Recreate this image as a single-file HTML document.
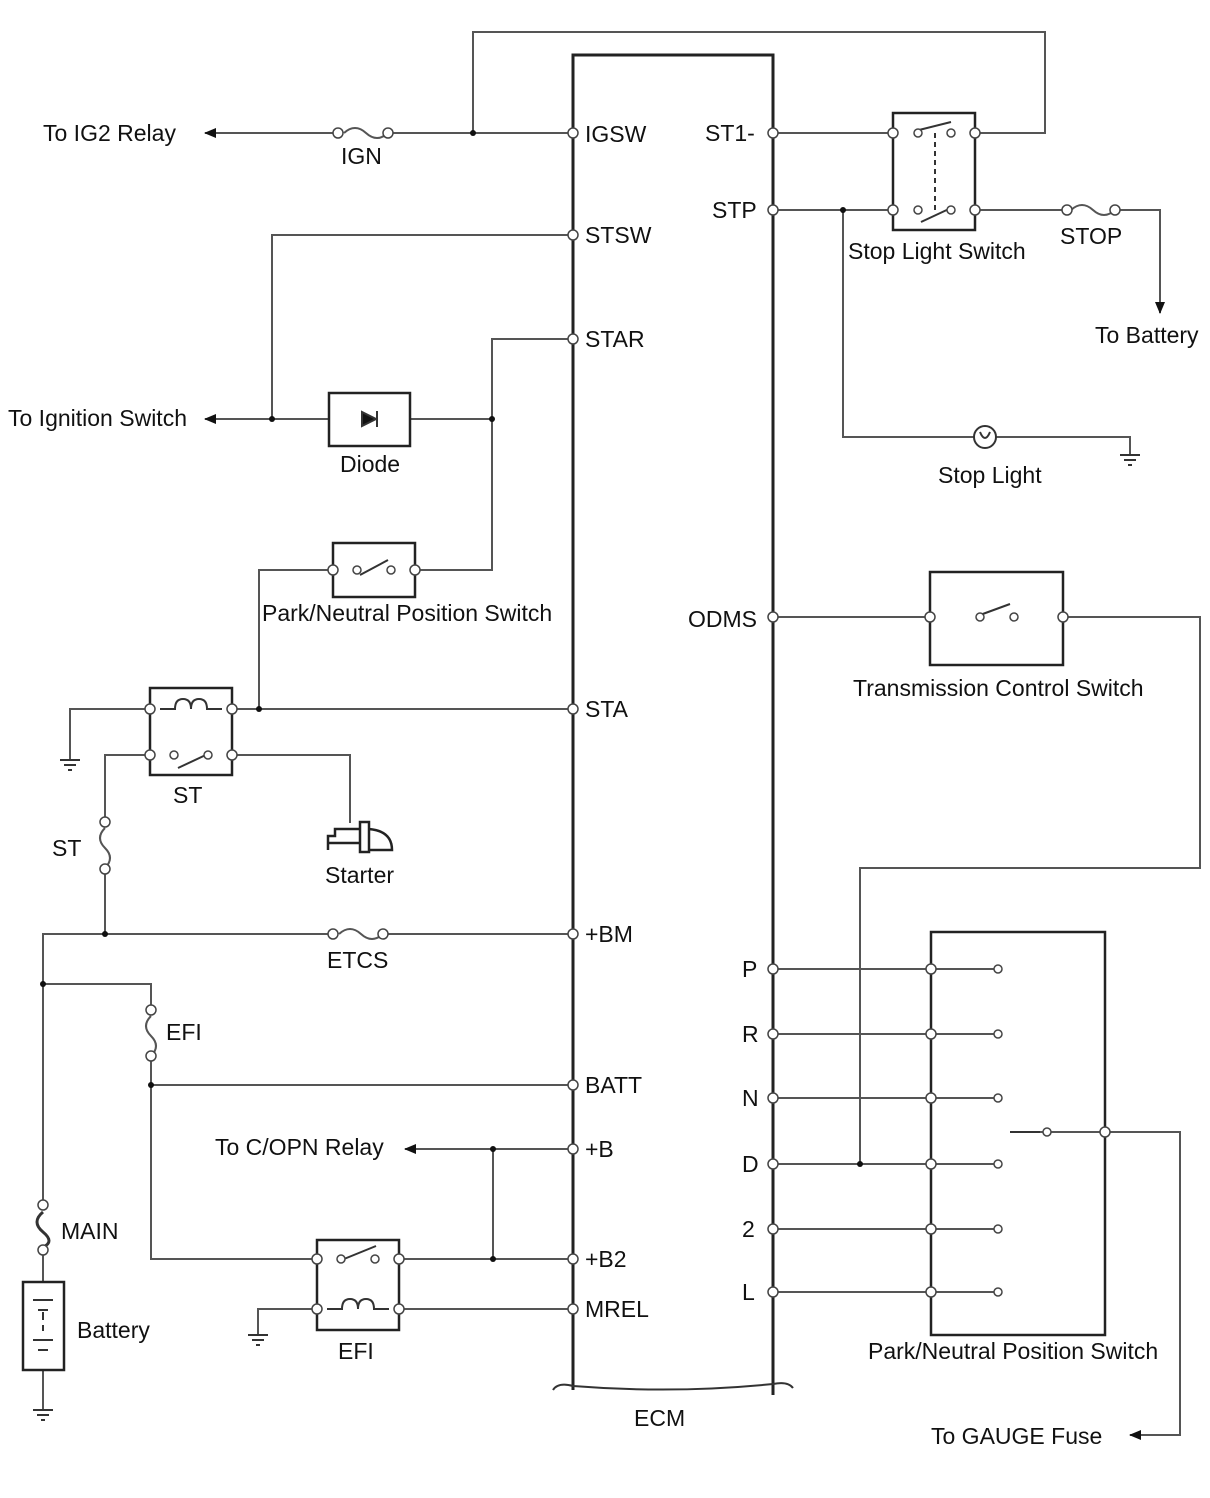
<!DOCTYPE html>
<html><head><meta charset="utf-8"><style>body{margin:0;background:#fff}svg{display:block}text{font-family:"Liberation Sans",sans-serif;font-size:23px;fill:#111}</style></head><body>
<svg width="1210" height="1498" viewBox="0 0 1210 1498" xmlns="http://www.w3.org/2000/svg">
<defs>
<marker id="a" markerWidth="12" markerHeight="10" refX="11" refY="5" orient="auto" markerUnits="userSpaceOnUse"><path d="M0,0 L12,5 L0,10 Z" fill="#111"/></marker>
</defs>
<g stroke="#555" stroke-width="2" fill="none">
<path d="M573,1390 V55 H773 V1395" stroke="#222" stroke-width="3"/>
<path d="M553,1390 q5,-8 20,-4 q100,8 200,-2 q15,-3 20,4" stroke="#333"/>
<path d="M473,133 V32 H1045 V133 H975"/>
<path d="M573,133 H388 M338,133 H205" marker-end="url(#a)"/>
<path d="M344,133 q11,-10 22,0 q11,10 22,0"/>
<path d="M573,235 H272 V419"/>
<path d="M573,339 H492 V570 H415"/>
<path d="M492,419 H410 M329,419 H205" marker-end="url(#a)"/>
<path d="M333,570 H259 V709"/>
<path d="M573,709 H232 M150,709 H70 V760"/>
<path d="M150,755 H105 V822 M105,869 V934 M232,755 H350 V823"/>
<path d="M105,828 q-10,10 0,20 q10,10 0,20"/>
<path d="M573,934 H383 M333,934 H43 V1205 M43,1250 V1282 M43,1370 V1410"/>
<path d="M339,934 q11,-10 22,0 q11,10 22,0"/>
<path d="M43,984 H151 V1010 M151,1056 V1259 H317 M151,1085 H573"/>
<path d="M151,1016 q-10,10 0,20 q10,10 0,20"/>
<path d="M573,1149 H405" marker-end="url(#a)"/>
<path d="M399,1259 H573 M493,1149 V1259 M399,1309 H573 M317,1309 H258 V1335"/>
<path d="M773,133 H893 M773,210 H893 M975,210 H1067 M1115,210 H1160 V313" marker-end="url(#a)"/>
<path d="M1071,210 q11,-10 22,0 q11,10 22,0"/>
<path d="M843,210 V437 H975 M995,437 H1130 V455"/>
<path d="M773,617 H930 M1063,617 H1200 V868 H860 V1164"/>
<path d="M773,969 H998 M773,1034 H998 M773,1098 H998 M773,1164 H998 M773,1229 H998 M773,1292 H998 M931,969 V1292"/>
<path d="M1105,1132 H1180 V1435 H1130" marker-end="url(#a)"/>
<path d="M1010,1132 H1047 M1047,1132 H1105"/>
</g>
<g stroke="#222" stroke-width="2.5" fill="none">
<rect x="329" y="393" width="81" height="53"/>
<rect x="333" y="543" width="82" height="54"/>
<rect x="150" y="688" width="82" height="87"/>
<rect x="317" y="1240" width="82" height="90"/>
<rect x="23" y="1282" width="41" height="88"/>
<rect x="893" y="113" width="82" height="117"/>
<rect x="930" y="572" width="133" height="93"/>
<rect x="931" y="932" width="174" height="403"/>
<path d="M328,850 V836 H335 V829 H360 M328,843 H360"/>
<rect x="360" y="822" width="9" height="30"/>
<path d="M369,829 q23,2 23,21 H369"/>
</g>
<g stroke="#333" stroke-width="2" fill="none">
<path d="M362,412 V426 L376,419 Z" fill="#111"/><path d="M377,411 V427"/>
<path d="M360,575 L388,560 M178,768 L210,753 M344,1259 L376,1246 M919,130 L951,122 M921,222 L951,208"/>
<path d="M935,133 V210" stroke-dasharray="5,4"/>
<path d="M980,615 L1010,604 M1010,1132 H1040"/>
<path d="M160,709 H175 q0,-10 8,-10 q8,0 8,10 q0,-10 8,-10 q8,0 8,10 H222"/>
<path d="M327,1309 H342 q0,-10 8,-10 q8,0 8,10 q0,-10 8,-10 q8,0 8,10 H389"/>
<circle cx="985" cy="437" r="11"/><path d="M980,432 q5,12 10,0"/>
<path d="M43,1212 q-12,10 0,20 q12,10 0,15" stroke-width="3"/>
<path d="M33,1300 h20 M38,1310 h10 M43,1312 v8 M43,1325 v6 M33,1340 h20 M38,1350 h10"/>
<path d="M60,760 h20 M64,765 h12 M68,770 h4 M33,1410 h20 M37,1415 h12 M41,1420 h4 M248,1335 h20 M252,1340 h12 M256,1345 h4 M1120,455 h20 M1124,460 h12 M1128,465 h4"/>
</g>
<g fill="#fff" stroke="#444" stroke-width="1.5">
<circle cx="573" cy="133" r="5"/><circle cx="573" cy="235" r="5"/><circle cx="573" cy="339" r="5"/><circle cx="573" cy="709" r="5"/><circle cx="573" cy="934" r="5"/><circle cx="573" cy="1085" r="5"/><circle cx="573" cy="1149" r="5"/><circle cx="573" cy="1259" r="5"/><circle cx="573" cy="1309" r="5"/>
<circle cx="773" cy="133" r="5"/><circle cx="773" cy="210" r="5"/><circle cx="773" cy="617" r="5"/><circle cx="773" cy="969" r="5"/><circle cx="773" cy="1034" r="5"/><circle cx="773" cy="1098" r="5"/><circle cx="773" cy="1164" r="5"/><circle cx="773" cy="1229" r="5"/><circle cx="773" cy="1292" r="5"/>
<circle cx="338" cy="133" r="5"/><circle cx="388" cy="133" r="5"/><circle cx="333" cy="934" r="5"/><circle cx="383" cy="934" r="5"/>
<circle cx="1067" cy="210" r="5"/><circle cx="1115" cy="210" r="5"/>
<circle cx="105" cy="822" r="5"/><circle cx="105" cy="869" r="5"/><circle cx="151" cy="1010" r="5"/><circle cx="151" cy="1056" r="5"/>
<circle cx="43" cy="1205" r="5"/><circle cx="43" cy="1250" r="5"/>
<circle cx="333" cy="570" r="5"/><circle cx="357" cy="570" r="4"/><circle cx="391" cy="570" r="4"/><circle cx="415" cy="570" r="5"/>
<circle cx="150" cy="709" r="5"/><circle cx="232" cy="709" r="5"/><circle cx="150" cy="755" r="5"/><circle cx="174" cy="755" r="4"/><circle cx="208" cy="755" r="4"/><circle cx="232" cy="755" r="5"/>
<circle cx="317" cy="1259" r="5"/><circle cx="341" cy="1259" r="4"/><circle cx="375" cy="1259" r="4"/><circle cx="399" cy="1259" r="5"/><circle cx="317" cy="1309" r="5"/><circle cx="399" cy="1309" r="5"/>
<circle cx="893" cy="133" r="5"/><circle cx="918" cy="133" r="4"/><circle cx="951" cy="133" r="4"/><circle cx="975" cy="133" r="5"/>
<circle cx="893" cy="210" r="5"/><circle cx="918" cy="210" r="4"/><circle cx="951" cy="210" r="4"/><circle cx="975" cy="210" r="5"/>
<circle cx="930" cy="617" r="5"/><circle cx="980" cy="617" r="4"/><circle cx="1014" cy="617" r="4"/><circle cx="1063" cy="617" r="5"/>
<circle cx="931" cy="969" r="5"/><circle cx="931" cy="1034" r="5"/><circle cx="931" cy="1098" r="5"/><circle cx="931" cy="1164" r="5"/><circle cx="931" cy="1229" r="5"/><circle cx="931" cy="1292" r="5"/>
<circle cx="998" cy="969" r="4"/><circle cx="998" cy="1034" r="4"/><circle cx="998" cy="1098" r="4"/><circle cx="998" cy="1164" r="4"/><circle cx="998" cy="1229" r="4"/><circle cx="998" cy="1292" r="4"/>
<circle cx="1047" cy="1132" r="4"/><circle cx="1105" cy="1132" r="5"/>
</g>
<g fill="#111">
<circle cx="473" cy="133" r="3"/><circle cx="272" cy="419" r="3"/><circle cx="492" cy="419" r="3"/><circle cx="259" cy="709" r="3"/><circle cx="105" cy="934" r="3"/><circle cx="43" cy="984" r="3"/><circle cx="151" cy="1085" r="3"/><circle cx="493" cy="1149" r="3"/><circle cx="493" cy="1259" r="3"/><circle cx="843" cy="210" r="3"/><circle cx="860" cy="1164" r="3"/>
</g>
<g>
<text x="43" y="141">To IG2 Relay</text><text x="341" y="164">IGN</text>
<text x="585" y="142">IGSW</text><text x="585" y="243">STSW</text><text x="585" y="347">STAR</text><text x="585" y="717">STA</text><text x="585" y="942">+BM</text><text x="585" y="1093">BATT</text><text x="585" y="1157">+B</text><text x="585" y="1267">+B2</text><text x="585" y="1317">MREL</text>
<text x="8" y="426">To Ignition Switch</text><text x="340" y="472">Diode</text>
<text x="262" y="621">Park/Neutral Position Switch</text>
<text x="173" y="803">ST</text><text x="52" y="856">ST</text><text x="325" y="883">Starter</text>
<text x="327" y="968">ETCS</text><text x="166" y="1040">EFI</text>
<text x="215" y="1155">To C/OPN Relay</text><text x="61" y="1239">MAIN</text><text x="77" y="1338">Battery</text><text x="338" y="1359">EFI</text>
<text x="634" y="1426">ECM</text>
<text x="705" y="141">ST1-</text><text x="712" y="218">STP</text>
<text x="848" y="259">Stop Light Switch</text><text x="1060" y="244">STOP</text><text x="1095" y="343">To Battery</text>
<text x="938" y="483">Stop Light</text>
<text x="688" y="627">ODMS</text><text x="853" y="696">Transmission Control Switch</text>
<text x="742" y="977">P</text><text x="742" y="1042">R</text><text x="742" y="1106">N</text><text x="742" y="1172">D</text><text x="742" y="1237">2</text><text x="742" y="1300">L</text>
<text x="868" y="1359">Park/Neutral Position Switch</text><text x="931" y="1444">To GAUGE Fuse</text>
</g>
</svg>
</body></html>
